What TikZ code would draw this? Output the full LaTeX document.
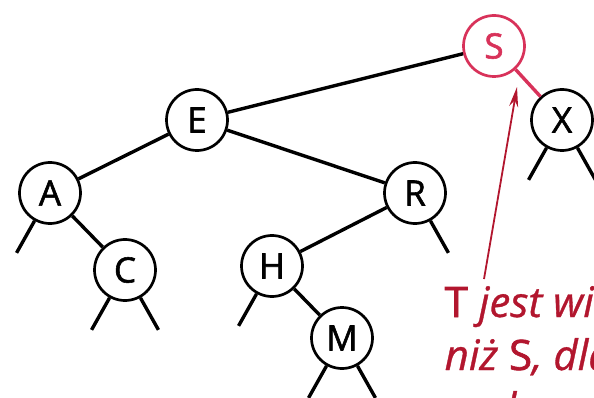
\documentclass[tikz,border=0pt]{standalone}
\usepackage{fontspec}
\setmainfont{Open Sans}
\newfontface\keyface{Open Sans}[FakeBold=1.6]
\newfontface\remarkface{Open Sans Italic}[FakeBold=0.8]
\usetikzlibrary{arrows.meta}
\definecolor{hot}{RGB}{216,50,90}
\definecolor{remarkred}{RGB}{178,22,46}
\newcommand{\keyfont}{\fontsize{35}{40}\keyface}
\newcommand{\remarkfont}{\fontsize{42}{53}\remarkface}

\begin{document}
\begin{tikzpicture}[x=1pt, y=-1pt, line width=3.4pt,
  key/.style={circle, draw, line width=2.7pt, minimum size=61pt,
    inner sep=0pt, font=\keyfont},
  remark/.style={anchor=base west, inner sep=0pt, text=remarkred, font=\remarkfont}]

  \clip (0, 0) rectangle (594, 398);

  % keys of the tree
  \node[key, draw=hot, text=hot] (S) at (494, 46) {S};
  \node[key] (E) at (197, 120) {E};
  \node[key] (X) at (562, 120) {X};
  \node[key] (A) at (50, 193) {A};
  \node[key] (R) at (415, 193) {R};
  \node[key] (C) at (125, 270) {C};
  \node[key] (H) at (272, 266) {H};
  \node[key] (M) at (342, 338) {M};

  % links
  \draw (E) -- (S);
  \draw (E) -- (A);
  \draw (E) -- (R);
  \draw (A) -- (C);
  \draw (R) -- (H);
  \draw (H) -- (M);
  \draw[hot] (S) -- (X);

  % null links
  \foreach \n in {A, C, H, M, X}
    \draw (\n.241) -- ++(-18, 32);
  \foreach \n in {C, M, R, X}
    \draw (\n.299) -- ++(18, 32);

  % remark
  \node[remark] (lineA) at (443, 317) {{\keyface\fontsize{42}{53}\selectfont T} jest większe};
  \node[remark] (lineB) at (443, 370) {niż {\keyface\fontsize{42}{53}\selectfont S}, dlatego};
  \node[remark] (lineC) at (443, 423) {szukamy po prawej};

  \coordinate (tail) at (484, 279);
  \coordinate (tip) at (517, 87);
  \draw[remarkred, line width=1.8pt, -{Stealth[length=20pt, width=9pt]}] (tail) -- (tip);

\end{tikzpicture}
\end{document}
